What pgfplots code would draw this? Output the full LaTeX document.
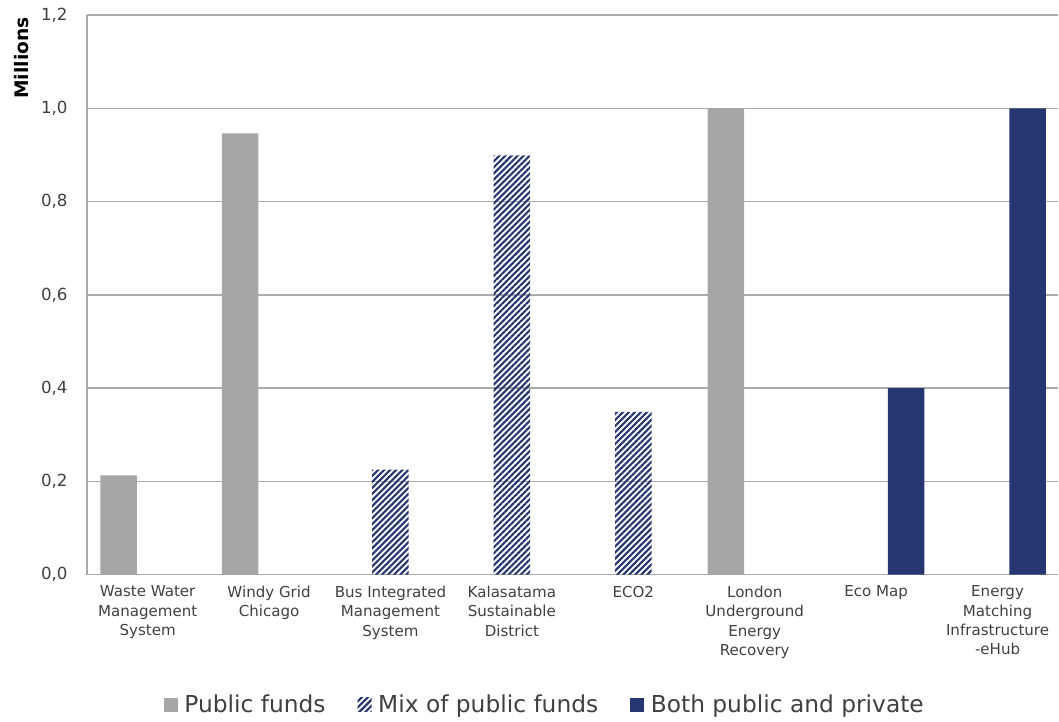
\documentclass[border=0pt]{standalone}
\usepackage{fontspec}
\setmainfont{DejaVu Sans}
\usepackage{pgfplots}
\pgfplotsset{compat=1.18}
\usetikzlibrary{patterns.meta}
\definecolor{pubgray}{HTML}{A6A6A6}
\definecolor{navy}{HTML}{263670}
\definecolor{txt}{HTML}{404040}
\definecolor{gridc}{HTML}{ABABAB}
\begin{document}
\begin{tikzpicture}
\begin{axis}[
  scale only axis,
  width=729pt, height=420pt,
  xmin=-0.5, xmax=7.5,
  ymin=0, ymax=1.2,
  ytick={0,0.2,0.4,0.6,0.8,1.0,1.2},
  xtick={0,1,2,3,4,5,6,7},
  xticklabels={{Waste Water\\Management\\System},{Windy Grid\\Chicago},{Bus Integrated\\Management\\System},{Kalasatama\\Sustainable\\District},{ECO2},{London\\Underground\\Energy\\Recovery},{Eco Map},{Energy\\Matching\\Infrastructure\\-eHub}},
  axis lines=left,
  axis line style={draw=gridc, line width=1.1pt, -},
  major tick length=0pt,
  ymajorgrids,
  grid style={draw=gridc, line width=1.1pt},
  yticklabel style={font=\fontsize{12.5}{15}\selectfont, text=txt, xshift=-11pt},
  xticklabel style={font=\fontsize{11.3}{14.5}\selectfont, text=txt, align=center, yshift=-5pt},
  /pgf/number format/.cd, fixed, fixed zerofill, precision=1, use comma, assume math mode=true,
  /pgfplots/.cd,
  ybar, bar width=27.4pt,
  legend style={at={(0.4717,0)}, anchor=center, yshift=-97.5pt, draw=none, font=\fontsize{17.5}{20}\selectfont, text=txt, legend columns=3, /tikz/every even column/.append style={column sep=22pt}, /tikz/every odd column/.append style={column sep=3pt}},
  legend image code/.code={\fill[#1] (0pt,-5.5pt) rectangle (10.5pt,5pt);},
]
\addplot[fill=pubgray, draw=none, bar shift=-21.75pt] coordinates {(0,0.213) (1,0.946) (5,1.0)};
\addlegendentry{Public funds}
\addplot[pattern={Lines[angle=45,distance=3.2pt,line width=1.6pt]}, pattern color=navy, draw=none, bar shift=0pt] coordinates {(2,0.225) (3,0.899) (4,0.349)};
\addlegendentry{Mix of public funds}
\addplot[fill=navy, draw=none, bar shift=22.5pt] coordinates {(6,0.4) (7,1.0)};
\addlegendentry{Both public and private}
\end{axis}
\node[rotate=90, font=\bfseries\fontsize{14}{16}\selectfont, text=black] at ([xshift=-48.75pt,yshift=-32.25pt]current axis.north west) {Millions};
\path ([xshift=-65.25pt,yshift=-110.25pt]current axis.south west) rectangle ([yshift=11.25pt]current axis.north east);
\end{tikzpicture}
\end{document}
